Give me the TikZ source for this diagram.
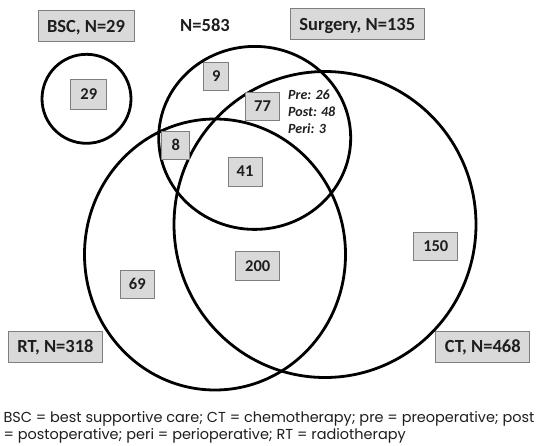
\documentclass[tikz,border=0pt]{standalone}
\usepackage{fontspec}
\setmainfont{Carlito}
\newfontfamily\capfont{Poppins}
\definecolor{boxfill}{HTML}{D9D9D9}
\definecolor{boxline}{HTML}{7F7F7F}
\definecolor{ink}{HTML}{1E1E1E}
\newlength\capw
\tikzset{
  venn/.style={line width=2.8pt, draw=black},
  lbl/.style={draw=boxline, fill=boxfill, line width=0.9pt, text=ink,
    font=\fontsize{18.5}{20}\selectfont\bfseries, inner sep=0pt,
    text height=12pt, text depth=0pt},
  numbox/.style={draw=boxline, fill=boxfill, line width=0.9pt, text=ink,
    font=\fontsize{16.5}{18}\selectfont\bfseries, inner sep=0pt,
    text height=10.5pt, text depth=0pt},
  subtxt/.style={text=ink, font=\fontsize{14}{17}\selectfont\bfseries\itshape,
    anchor=base west, inner sep=0pt},
  captxt/.style={text=ink, anchor=base west, inner sep=0pt}
}
\begin{document}
\settowidth{\capw}{\capfont\fontsize{14}{16}\selectfont BSC = best supportive care; CT = chemotherapy; pre = preoperative; post}%
\pgfmathsetmacro\capscale{531/\capw}%
\begin{tikzpicture}[x=1pt,y=-1pt]
\useasboundingbox[fill=white] (0,0) rectangle (536,445);
% circles
\draw[venn] (86.5,98.8) circle [radius=44.5pt];
\draw[venn] (254.7,137.9) ellipse [x radius=96pt, y radius=91.5pt];
\draw[venn] (215,254.5) ellipse [x radius=130.5pt, y radius=135.5pt];
\draw[venn] (325,224.5) ellipse [x radius=151pt, y radius=153pt];
% group labels
\node[lbl, minimum width=96pt, minimum height=31pt] (bsc) at (86,26.3) {BSC, N=29};
\node[lbl, minimum width=134.5pt, minimum height=31pt] (surg) at (357.3,24.3) {Surgery, N=135};
\node[lbl, minimum width=93.5pt, minimum height=31pt] (rt) at (55.5,346.8) {RT, N=318};
\node[lbl, minimum width=94pt, minimum height=31pt] (ct) at (482.8,346.8) {CT, N=468};
\node[text=ink, font=\fontsize{18.5}{20}\selectfont\bfseries, inner sep=0pt,
  text height=12pt, text depth=0pt] (total) at (205,25) {N=583};
% region counts
\node[numbox, minimum width=36pt, minimum height=30pt] (n29) at (88.8,94.5) {29};
\node[numbox, minimum width=25pt, minimum height=27.5pt] (n9) at (216.3,76.5) {9};
\node[numbox, minimum width=28pt, minimum height=28pt] (n8) at (175.8,145) {8};
\node[numbox, minimum width=34pt, minimum height=28.5pt] (n77) at (262.5,106.3) {77};
\node[numbox, minimum width=34pt, minimum height=29pt] (n41) at (245,171.7) {41};
\node[numbox, minimum width=43.7pt, minimum height=29pt] (n200) at (257.7,265.8) {200};
\node[numbox, minimum width=33.7pt, minimum height=27.7pt] (n69) at (137.3,284.3) {69};
\node[numbox, minimum width=44pt, minimum height=27.7pt] (n150) at (435.8,246.7) {150};
% surgery breakdown
\node[subtxt] (pre) at (288,99) {Pre: 26};
\node[subtxt] (post) at (288,116.3) {Post: 48};
\node[subtxt] (peri) at (288,133.6) {Peri: 3};
% caption
\node[captxt] (cap1) at (3.3,422.7) {\scalebox{\capscale}{\capfont\fontsize{14}{16}\selectfont BSC = best supportive care; CT = chemotherapy; pre = preoperative; post}};
\node[captxt] (cap2) at (3.3,439.4) {\scalebox{\capscale}{\capfont\fontsize{14}{16}\selectfont = postoperative; peri = perioperative; RT = radiotherapy}};
\end{tikzpicture}
\end{document}
